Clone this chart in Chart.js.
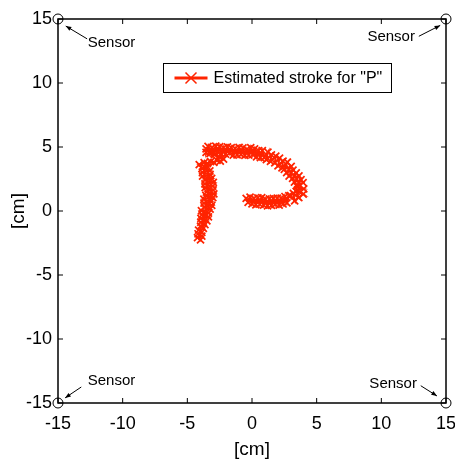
<!DOCTYPE html>
<html>
<head>
<meta charset="utf-8">
<script src="https://cdn.jsdelivr.net/npm/chart.js@4"></script>
<style>
html, body { margin: 0; padding: 0; background: #fff; }
</style>
</head>
<body>
<canvas id="chart" width="455" height="464"></canvas>
<script>
// 推定ストローク "P" (cm) — 縦線 → つなぎ → 上辺 → 丸み → 下辺
const strokeX = [
    -3.98, -4.21, -3.88, -4.17, -3.88, -4.13, -3.76, -3.98, -3.64, -3.96,
    -3.49, -3.95, -3.37, -3.86, -3.37, -3.91, -3.24, -3.69, -3.11, -3.71,
    -3.17, -3.72, -3.03, -3.57, -2.95, -3.50, -3.01, -3.62, -3.04, -3.64,
    -2.99, -3.63, -3.12, -3.82, -3.24, -3.83, -3.26, -3.87, -3.43, -4.08,
    -3.70, -3.45, -3.20, -2.95, -2.70, -2.45, -2.20, -2.55, -2.90, -3.25, -3.55,
    -3.55, -3.40, -3.25, -3.10, -2.95, -2.80, -2.65, -2.50, -2.35, -2.20,
    -2.05, -1.90, -1.75, -1.60, -1.45, -1.30, -1.15, -1.00, -0.85, -0.70,
    -0.55, -0.40, -0.25, -0.10, 0.05, 0.20, 0.35, 0.50, 0.65, 0.80, 0.95,
    1.23, 1.11, 1.50, 1.43, 1.84, 1.76, 2.13, 2.01, 2.40, 2.32, 2.74,
    2.50, 3.03, 2.68, 3.17, 2.87, 3.42, 3.14, 3.63, 3.28, 3.79, 3.45, 3.95,
    3.52, 4.00, 3.53, 3.96, 3.42, 3.62, 3.20, 3.30, 2.98,
    2.85, 2.70, 2.55, 2.40, 2.25, 2.10, 1.95, 1.80, 1.65, 1.50,
    1.35, 1.20, 1.05, 0.90, 0.75, 0.60, 0.45, 0.30, 0.15, 0.00,
    -0.15, -0.30, -0.45
];
const strokeY = [
    -2.25, -2.08, -1.96, -1.78, -1.66, -1.49, -1.36, -1.18, -1.06, -0.88,
    -0.76, -0.58, -0.46, -0.28, -0.16, 0.02, 0.14, 0.32, 0.44, 0.62,
    0.74, 0.92, 1.04, 1.22, 1.34, 1.52, 1.64, 1.82, 1.94, 2.12,
    2.24, 2.42, 2.54, 2.72, 2.84, 3.02, 3.14, 3.32, 3.44, 3.62,
    3.78, 3.72, 3.86, 3.80, 3.95, 3.90, 4.05, 4.25, 4.40, 4.62, 4.85,
    4.58, 5.05, 4.48, 4.95, 4.50, 5.06, 4.59, 5.02, 4.43, 4.94,
    4.44, 5.01, 4.52, 4.95, 4.36, 4.88, 4.39, 4.96, 4.43, 4.93,
    4.34, 4.81, 4.37, 4.94, 4.41, 4.85, 4.23, 4.72, 4.18, 4.72, 4.18,
    4.60, 4.01, 4.38, 3.88, 4.29, 3.77, 4.12, 3.53, 3.90, 3.38, 3.81,
    3.26, 3.49, 3.00, 3.19, 2.73, 2.97, 2.55, 2.74, 2.25, 2.44, 1.98, 2.22,
    1.90, 1.73, 1.67, 1.32, 1.53, 1.04, 1.38, 0.80, 1.20,
    1.19, 0.63, 1.13, 0.55, 1.00, 0.46, 1.00, 0.52, 0.99, 0.44,
    0.94, 0.41, 0.92, 0.47, 1.04, 0.53, 1.02, 0.49, 0.98, 0.56,
    1.08, 0.68, 0.98
];

// センサー位置 (四隅)
const sensorX = [-15, 15, -15, 15];
const sensorY = [15, 15, -15, -15];

// 軸目盛
const tickValues = [-15, -10, -5, 0, 5, 10, 15];

const strokeLabel = 'Estimated stroke for "P"';
const strokeColor = '#ff2400';
const fontFamily = "'Liberation Sans', Arial, Helvetica, sans-serif";

// 注釈 (文字位置と矢印, データ座標)
const sensorNotes = [
    { tx: -12.7, ty: 13.1,  align: 'left',  from: [-12.75, 13.45], to: [-14.4, 14.45] },
    { tx: 12.6,  ty: 13.6,  align: 'right', from: [12.9, 13.65],   to: [14.55, 14.5] },
    { tx: -12.7, ty: -13.3, align: 'left',  from: [-13.2, -13.75], to: [-14.45, -14.6] },
    { tx: 12.75, ty: -13.5, align: 'right', from: [13.05, -13.65], to: [14.3, -14.45] }
];

function drawArrow(ctx, x1, y1, x2, y2) {
    const ang = Math.atan2(y2 - y1, x2 - x1);
    const len = 6;
    ctx.beginPath();
    ctx.moveTo(x1, y1);
    ctx.lineTo(x2, y2);
    ctx.stroke();
    ctx.beginPath();
    ctx.moveTo(x2, y2);
    ctx.lineTo(x2 - len * Math.cos(ang - 0.38), y2 - len * Math.sin(ang - 0.38));
    ctx.lineTo(x2 - len * Math.cos(ang + 0.38), y2 - len * Math.sin(ang + 0.38));
    ctx.closePath();
    ctx.fill();
}

// 枠・内向き目盛・凡例・注釈
const framePlugin = {
    id: 'frame',
    afterDatasetsDraw(chart) {
        const { ctx, chartArea: a, scales } = chart;
        ctx.save();
        ctx.strokeStyle = '#000';
        ctx.lineWidth = 1.5;
        ctx.strokeRect(a.left, a.top, a.right - a.left, a.bottom - a.top);

        ctx.lineWidth = 1;
        const tl = 5;
        tickValues.forEach(v => {
            const px = scales.x.getPixelForValue(v);
            const py = scales.y.getPixelForValue(v);
            ctx.beginPath();
            ctx.moveTo(px, a.bottom); ctx.lineTo(px, a.bottom - tl);
            ctx.moveTo(px, a.top); ctx.lineTo(px, a.top + tl);
            ctx.moveTo(a.left, py); ctx.lineTo(a.left + tl, py);
            ctx.moveTo(a.right, py); ctx.lineTo(a.right - tl, py);
            ctx.stroke();
        });

        // 凡例
        const lx = 163.5, ly = a.top + 44.5, lw = 228, lh = 29;
        ctx.fillStyle = '#fff';
        ctx.fillRect(lx, ly, lw, lh);
        ctx.strokeStyle = '#000';
        ctx.lineWidth = 1;
        ctx.strokeRect(lx, ly, lw, lh);
        const cy = ly + lh / 2;
        ctx.strokeStyle = strokeColor;
        ctx.lineWidth = 3;
        ctx.beginPath();
        ctx.moveTo(lx + 11, cy); ctx.lineTo(lx + 44, cy);
        ctx.stroke();
        ctx.lineWidth = 1.5;
        ctx.beginPath();
        ctx.moveTo(lx + 22, cy - 5.5); ctx.lineTo(lx + 33, cy + 5.5);
        ctx.moveTo(lx + 33, cy - 5.5); ctx.lineTo(lx + 22, cy + 5.5);
        ctx.stroke();
        ctx.fillStyle = '#000';
        ctx.font = '16px ' + fontFamily;
        ctx.textAlign = 'left';
        ctx.textBaseline = 'middle';
        ctx.fillText(strokeLabel, lx + 50, cy + 1);

        // センサー注釈
        ctx.font = '15px ' + fontFamily;
        ctx.strokeStyle = '#000';
        ctx.lineWidth = 1;
        sensorNotes.forEach(n => {
            ctx.textAlign = n.align;
            ctx.fillText('Sensor', scales.x.getPixelForValue(n.tx), scales.y.getPixelForValue(n.ty));
            drawArrow(ctx,
                scales.x.getPixelForValue(n.from[0]), scales.y.getPixelForValue(n.from[1]),
                scales.x.getPixelForValue(n.to[0]), scales.y.getPixelForValue(n.to[1]));
        });
        ctx.restore();
    }
};

const ctx = document.getElementById('chart').getContext('2d');
new Chart(ctx, {
    type: 'scatter',
    data: {
        datasets: [
            {
                label: strokeLabel,
                data: strokeX.map((x, i) => ({ x: x, y: strokeY[i] })),
                showLine: true,
                borderColor: strokeColor,
                borderWidth: 2,
                pointStyle: 'crossRot',
                pointRadius: 5,
                pointBorderWidth: 1.75,
                pointBorderColor: strokeColor,
                tension: 0
            },
            {
                label: 'Sensor',
                data: sensorX.map((x, i) => ({ x: x, y: sensorY[i] })),
                showLine: false,
                pointStyle: 'circle',
                pointRadius: 5,
                pointBorderWidth: 1,
                pointBorderColor: '#000',
                pointBackgroundColor: 'rgba(0,0,0,0)',
                clip: false
            }
        ]
    },
    options: {
        responsive: false,
        animation: false,
        layout: { padding: { top: 19, right: 0, left: 0, bottom: 0 } },
        plugins: {
            legend: { display: false },
            tooltip: { enabled: false }
        },
        scales: {
            x: {
                type: 'linear',
                min: -15,
                max: 15,
                afterFit: s => { s.height = 61; s.paddingRight = 9; },
                afterBuildTicks: s => { s.ticks = tickValues.map(v => ({ value: v })); },
                grid: { display: false, drawTicks: false },
                border: { display: false },
                ticks: { color: '#000', padding: 10, font: { size: 18, family: fontFamily } },
                title: { display: true, text: '[cm]', color: '#000', padding: { top: 0, bottom: 3 }, font: { size: 19, family: fontFamily } }
            },
            y: {
                type: 'linear',
                min: -15,
                max: 15,
                afterFit: s => { s.width = 58; },
                afterBuildTicks: s => { s.ticks = tickValues.map(v => ({ value: v })); },
                grid: { display: false, drawTicks: false },
                border: { display: false },
                ticks: { color: '#000', padding: 6, font: { size: 18, family: fontFamily } },
                title: { display: true, text: '[cm]', color: '#000', padding: { top: 7, bottom: 0 }, font: { size: 19, family: fontFamily } }
            }
        }
    },
    plugins: [framePlugin]
});
</script>
</body>
</html>
